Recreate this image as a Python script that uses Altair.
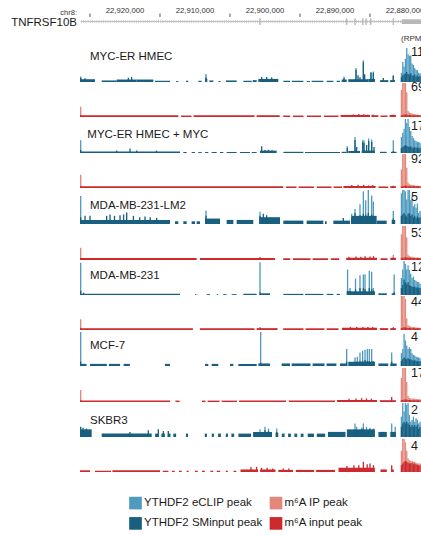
import altair as alt
import pandas as pd

FONT = "Liberation Sans"

# ---------------- visible genomic window (kb, chr8) ----------------
X_LEFT_KB, X_RIGHT_KB = 22937.857, 22877.714
W = 421
HEADER_H = 46
TRACK_HEIGHTS = [36, 35, 36, 35, 36, 36, 35, 35, 36, 36, 35, 35]
DATA_PX = 34.0   # pixel height that a track's maximum value reaches

C_ECLIP = "#4f9bc0"
C_SMIN = "#185f80"
C_IP = "#e3877b"
C_INPUT = "#cc2a2e"

S_ECLIP, S_SMIN = "YTHDF2 eCLIP peak", "YTHDF2 SMinput peak"
S_IP, S_INPUT = "m\u2076A IP peak", "m\u2076A input peak"
series_names = [S_ECLIP, S_SMIN, S_IP, S_INPUT]
series_colors = [C_ECLIP, C_SMIN, C_IP, C_INPUT]

# ---------------- header ----------------
axis_major_kb = [22920, 22910, 22900, 22890, 22880]
axis_minor_kb = [22925, 22915, 22905, 22895, 22885]
gene_span_kb = [22926.29, 22877.71]
exon_kb = [22900.71, 22888.33, 22887.14, 22886.04, 22885.57, 22884.90, 22881.67]
utr_kb = [22880.47, 22877.71]

cell_lines = ["MYC-ER HMEC", "MYC-ER HMEC + MYC", "MDA-MB-231-LM2", "MDA-MB-231", "MCF-7", "SKBR3"]
blue_max = [11, 17, 5, 12, 4, 2]
red_max = [69, 92, 53, 44, 17, 4]

# positions of the 3' peak bins shared by all tracks (kb)
main_pos = [22880.51, 22880.32, 22880.13, 22879.94, 22879.75, 22879.56, 22879.37, 22879.18,
            22878.99, 22878.80, 22878.61, 22878.42, 22878.23, 22878.04, 22877.85]

# ---- track 1: MYC-ER HMEC, YTHDF2 (RPM) ----
t1_cov = [[22926.43, 22924.29, 0.9], [22923.33, 22921.19, 0.5], [22921.19, 22918.33, 0.8], [22918.33, 22915.95, 0.8],
          [22915.71, 22913.57, 0.4], [22912.71, 22912.38, 0.3], [22911.29, 22910.95, 0.4], [22909.52, 22909.05, 0.4],
          [22908.57, 22908.24, 1.0], [22907.95, 22907.38, 0.5], [22906.67, 22906.33, 0.3], [22905.57, 22904.05, 0.5],
          [22903.10, 22901.90, 0.4], [22901.76, 22901.19, 0.6], [22900.95, 22898.10, 1.0], [22897.38, 22896.43, 0.4],
          [22896.19, 22894.52, 0.4], [22894.05, 22893.57, 0.3], [22893.33, 22891.67, 0.4], [22891.19, 22890.24, 0.4],
          [22889.76, 22889.29, 0.4], [22889.05, 22888.33, 0.8], [22888.10, 22885.24, 0.9], [22885.24, 22884.29, 1.0],
          [22883.57, 22882.38, 0.6], [22882.14, 22881.43, 0.6]]
t1_peaks = [[22926.33, 1.8, 1.4], [22925.71, 0, 1.2], [22919.52, 0, 1.4], [22919.05, 0, 1.6], [22908.43, 2.6, 1.5],
            [22900.48, 0, 1.6], [22899.76, 0, 1.6], [22899.05, 0, 1.5], [22888.71, 1.8, 1.2], [22887.00, 4.5, 4.0],
            [22886.71, 0, 2.2], [22886.43, 0, 1.5], [22885.95, 7.0, 6.5], [22885.76, 0, 2.5], [22884.86, 3.2, 3.0],
            [22884.52, 3.4, 3.0], [22883.10, 0, 1.3], [22881.67, 2.2, 2.0]]
t1_main_light = [3.0, 6.5, 5.0, 7.5, 11, 9.0, 8.5, 8.6, 6.0, 5.5, 4.5, 4.0, 3.8, 3.0, 2.8]
t1_main_dark = [1.5, 2.2, 2.5, 2.8, 3.2, 2.6, 2.4, 2.8, 2.2, 2.0, 2.4, 1.8, 2.2, 1.6, 2.0]

# ---- track 2: MYC-ER HMEC, m6A ----
t2_cov = [[22926.43, 22912.38, 3.6], [22912.0, 22910.5, 3.0], [22910.2, 22901.5, 3.6], [22901.2, 22897.9, 3.6],
          [22897.4, 22896.4, 3.0], [22896.0, 22894.5, 3.0], [22894.0, 22892.0, 3.0], [22891.6, 22889.5, 3.0],
          [22889.2, 22885.0, 4.2], [22884.8, 22883.8, 3.6], [22883.5, 22882.5, 3.0], [22882.2, 22881.3, 4.2]]
t2_peaks = [[22926.33, 21, 3.6], [22887.4, 0, 5], [22886.6, 0, 6], [22885.9, 0, 5.5], [22885.3, 0, 4.5],
            [22884.6, 0, 5], [22881.7, 0, 4.5]]
t2_main_light = [55, 69, 69, 69, 50, 12, 9, 8, 7, 6, 6, 5, 5, 4, 4]
t2_main_dark = [3, 4, 5, 5, 5, 4, 4, 4, 3.6, 3.6, 3.6, 3.6, 3.6, 3.6, 3.6]

# ---- track 3: MYC-ER HMEC + MYC, YTHDF2 ----
t3_cov = [[22926.43, 22912.14, 0.7], [22911.67, 22911.19, 0.5], [22910.48, 22910.0, 0.5], [22909.52, 22909.05, 0.5],
          [22908.57, 22908.10, 0.5], [22907.62, 22906.90, 0.5], [22906.43, 22905.95, 0.5], [22905.48, 22904.05, 0.5],
          [22903.57, 22902.14, 0.5], [22901.90, 22901.19, 0.5], [22900.71, 22898.33, 1.2], [22897.38, 22894.52, 0.6],
          [22894.29, 22889.29, 0.5], [22889.05, 22888.33, 0.6], [22888.10, 22886.43, 1.0], [22886.19, 22884.29, 1.2],
          [22883.57, 22882.62, 0.6], [22882.0, 22881.2, 0.6]]
t3_peaks = [[22926.33, 6.4, 1.5], [22921.19, 0, 1.3], [22919.29, 0, 2.2], [22918.33, 0, 1.2], [22915.5, 0, 1.2],
            [22900.48, 0, 3.4], [22900.0, 0, 1.5], [22899.5, 0, 1.6], [22899.0, 0, 1.4], [22888.24, 3.4, 2.5],
            [22887.14, 8.0, 6.5], [22886.90, 0, 3.0], [22886.05, 6.4, 5.5], [22885.86, 6.4, 5.0], [22885.48, 0, 4.0],
            [22885.19, 7.2, 6.0], [22884.76, 6.7, 5.5], [22884.43, 0, 3.0], [22881.67, 6.4, 1.0]]
t3_main_light = [8, 10, 12, 17, 15, 17, 13, 11, 8.5, 7.5, 6.4, 6, 5.5, 5.5, 5]
t3_main_dark = [2.5, 3, 3.5, 4, 3.5, 3.2, 3.0, 3.4, 2.8, 2.5, 3.0, 2.4, 2.8, 2.2, 2.6]

# ---- track 4: MYC-ER HMEC + MYC, m6A ----
t4_cov = [[22926.43, 22897.4, 5.0], [22897.0, 22895.5, 4.2], [22895.2, 22893.0, 4.2], [22892.6, 22890.5, 4.2],
          [22890.2, 22889.0, 4.2], [22888.8, 22884.2, 5.5], [22883.8, 22882.4, 4.2], [22882.1, 22881.3, 5.0]]
t4_peaks = [[22926.33, 36, 5], [22887.6, 0, 8], [22886.7, 0, 9], [22885.9, 0, 8.5], [22885.2, 0, 7],
            [22884.6, 0, 8], [22881.7, 0, 6]]
t4_main_light = [50, 92, 92, 92, 55, 14, 10, 9, 8, 8, 7, 7, 6, 6, 5]
t4_main_dark = [4, 5, 6, 6, 6, 5, 5, 5, 5, 5, 5, 5, 5, 5, 5]

# ---- track 5: MDA-MB-231-LM2, YTHDF2 ----
t5_cov = [[22926.43, 22913.57, 0.6], [22912.86, 22912.38, 0.4], [22911.67, 22911.19, 0.4], [22910.48, 22910.0, 0.4],
          [22909.76, 22909.29, 0.4], [22908.57, 22906.43, 0.8], [22905.48, 22904.52, 0.6], [22904.05, 22901.67, 0.6],
          [22900.81, 22897.86, 1.0], [22897.38, 22894.52, 0.5], [22894.05, 22891.67, 0.5], [22891.43, 22891.19, 0.4],
          [22890.24, 22887.86, 0.5], [22887.62, 22884.05, 1.2], [22884.05, 22882.62, 0.5], [22881.9, 22881.4, 0.6]]
t5_peaks = [[22926.33, 4.1, 1.0], [22925.71, 0, 1.2], [22925.0, 0, 1.2], [22922.62, 0, 1.2], [22922.14, 0, 1.4],
            [22921.5, 0, 1.2], [22920.71, 0, 1.3], [22920.2, 0, 1.4], [22919.76, 0, 1.7], [22918.8, 0, 1.2],
            [22917.9, 0, 1.0], [22917.14, 0, 1.1], [22916.4, 0, 1.0], [22915.48, 0, 0.9], [22908.43, 2.0, 1.2],
            [22900.71, 1.8, 1.2], [22900.24, 0, 1.5], [22899.76, 0, 1.3], [22888.81, 0, 0.9], [22887.62, 1.5, 1.0],
            [22887.14, 2.2, 1.6], [22886.43, 2.9, 1.3], [22885.95, 4.8, 1.5], [22885.62, 3.5, 1.4], [22885.24, 5.0, 1.6],
            [22884.76, 4.2, 1.4], [22884.52, 3.3, 1.2], [22881.67, 1.9, 0.8]]
t5_main_light = [4.5, 5, 5, 4.8, 3.6, 5, 5, 3.5, 4, 2.6, 2.9, 2.4, 3.0, 1.6, 1.9]
t5_main_dark = [1.2, 1.4, 1.6, 1.3, 1.1, 1.5, 1.6, 1.2, 1.4, 1.0, 1.2, 0.9, 1.1, 0.9, 1.0]

# ---- track 6: MDA-MB-231-LM2, m6A ----
t6_cov = [[22926.43, 22909.76, 3.0], [22909.29, 22898.57, 3.0], [22897.4, 22896.4, 2.7], [22896.0, 22893.5, 2.7],
          [22893.2, 22891.0, 2.7], [22890.6, 22889.4, 2.7], [22888.4, 22884.0, 3.5], [22883.5, 22882.5, 2.7],
          [22882.1, 22881.3, 3.5]]
t6_peaks = [[22926.33, 19, 3], [22900.71, 0, 4.5], [22888.0, 0, 5], [22887.0, 0, 5.5], [22886.3, 0, 5],
            [22885.7, 0, 6], [22885.0, 0, 5.5], [22884.5, 0, 6], [22881.67, 8, 3.5]]
t6_main_light = [40, 53, 53, 53, 35, 8, 6, 5, 5, 4.5, 4, 4, 4, 3.5, 3.5]
t6_main_dark = [3, 3.5, 4, 4, 4, 3.5, 3.5, 3.5, 3, 3, 3, 3, 3, 3, 3]

# ---- track 7: MDA-MB-231, YTHDF2 ----
t7_cov = [[22926.43, 22912.14, 0.4], [22910.0, 22909.8, 0.3], [22908.33, 22907.86, 0.3], [22906.9, 22906.7, 0.3],
          [22905.95, 22905.48, 0.3], [22904.76, 22904.05, 0.3], [22903.10, 22901.19, 0.4], [22900.71, 22899.29, 0.6],
          [22897.38, 22894.52, 0.4], [22894.29, 22891.67, 0.4], [22891.19, 22890.24, 0.4], [22889.76, 22889.29, 0.4],
          [22888.33, 22884.29, 1.3], [22883.8, 22882.6, 0.6], [22881.9, 22881.4, 0.6]]
t7_peaks = [[22926.33, 11.4, 1.5], [22925.9, 0, 0.8], [22900.71, 11.6, 1.0], [22888.2, 9.0, 1.5], [22887.86, 2.5, 1.5],
            [22887.07, 5.8, 2.0], [22886.43, 7.0, 2.5], [22885.95, 7.2, 2.5], [22885.71, 7.3, 2.0], [22885.1, 8.6, 2.5],
            [22884.76, 8.2, 2.0], [22884.52, 2.5, 1.5], [22881.55, 7.2, 1.0]]
t7_main_light = [6, 9, 12, 11, 9, 10.5, 8.8, 7.5, 6, 6.5, 5.3, 5, 4.6, 4.5, 4]
t7_main_dark = [2.5, 3.5, 5.5, 4.5, 3.8, 4.5, 3.5, 3.2, 3.0, 2.8, 3.0, 2.6, 2.8, 2.4, 2.5]

# ---- track 8: MDA-MB-231, m6A ----
t8_cov = [[22926.43, 22910.3, 2.4], [22909.3, 22901.5, 2.4], [22901.2, 22898.2, 2.4], [22897.4, 22894.5, 2.2],
          [22894.2, 22891.5, 2.2], [22891.2, 22889.5, 2.2], [22889.0, 22884.0, 3.0], [22883.6, 22882.4, 2.4],
          [22882.1, 22881.3, 2.4]]
t8_peaks = [[22926.33, 14, 2.4], [22900.71, 0, 3.5], [22887.8, 0, 3.8], [22886.9, 0, 4.0], [22886.0, 0, 3.8],
            [22885.3, 0, 4.0], [22884.6, 0, 3.8], [22881.67, 0, 3.5]]
t8_main_light = [44, 44, 44, 40, 15, 6, 5, 4.5, 4, 4, 3.5, 3.5, 3, 3, 3]
t8_main_dark = [2.4, 3, 3.5, 3.5, 3, 2.6, 2.6, 2.6, 2.4, 2.4, 2.4, 2.4, 2.4, 2.4, 2.4]

# ---- track 9: MCF-7, YTHDF2 ----
t9_cov = [[22926.43, 22925.5, 0.25], [22925.0, 22922.6, 0.25], [22922.3, 22920.7, 0.25], [22920.2, 22919.3, 0.25],
          [22914.29, 22913.57, 0.25], [22908.57, 22908.1, 0.25], [22907.62, 22906.67, 0.25], [22905.0, 22904.52, 0.25],
          [22903.81, 22901.19, 0.25], [22900.95, 22899.29, 0.3], [22897.62, 22896.43, 0.3], [22896.19, 22893.5, 0.3],
          [22893.2, 22891.5, 0.3], [22891.2, 22889.8, 0.3], [22889.29, 22888.33, 0.3], [22888.1, 22884.29, 0.5],
          [22883.8, 22882.4, 0.3], [22882.1, 22881.2, 0.3]]
t9_peaks = [[22926.33, 4.0, 0.5], [22900.62, 4.0, 0.4], [22888.33, 2.0, 0.5], [22887.14, 1.0, 0.5], [22886.81, 1.1, 0.5],
            [22886.43, 1.6, 0.6], [22886.05, 1.8, 0.6], [22885.71, 1.9, 0.7], [22885.38, 2.0, 0.6], [22885.10, 2.0, 0.6],
            [22884.76, 2.0, 0.6], [22884.52, 0.6, 0.4], [22881.9, 1.6, 0.5]]
t9_main_light = [1.5, 2.0, 3.8, 3.0, 2.4, 2.0, 2.2, 2.0, 1.5, 1.3, 1.25, 1.1, 1.05, 1.0, 0.9]
t9_main_dark = [0.6, 0.8, 1.0, 0.9, 0.8, 0.9, 0.8, 0.8, 0.7, 0.6, 0.7, 0.6, 0.6, 0.5, 0.6]

# ---- track 10: MCF-7, m6A ----
t10_cov = [[22926.43, 22913.57, 0.8], [22912.8, 22912.2, 0.7], [22909.0, 22908.5, 0.7], [22908.2, 22906.5, 0.7],
           [22906.2, 22904.0, 0.7], [22903.7, 22897.0, 0.8], [22896.6, 22890.0, 0.8], [22889.7, 22884.0, 1.0],
           [22883.6, 22881.3, 0.9]]
t10_peaks = [[22926.33, 6.0, 0.8], [22888.0, 0, 1.6], [22887.0, 0, 1.8], [22886.2, 0, 1.9], [22885.5, 0, 1.8],
             [22884.8, 0, 1.7], [22881.9, 0, 2.5]]
t10_main_light = [12, 17, 17, 17, 10, 3, 2, 1.8, 1.7, 1.7, 1.6, 1.5, 1.5, 1.4, 1.4]
t10_main_dark = [0.9, 1.0, 1.2, 1.2, 1.2, 1.0, 1.0, 1.0, 0.9, 0.9, 0.9, 0.9, 0.9, 0.9, 0.9]

# ---- track 11: SKBR3, YTHDF2 ----
t11_cov = [[22926.43, 22924.76, 0.45], [22923.33, 22916.19, 0.2], [22915.7, 22915.2, 0.2], [22914.8, 22914.3, 0.2],
           [22913.9, 22913.5, 0.2], [22913.1, 22912.7, 0.2], [22911.3, 22911.0, 0.2], [22908.6, 22908.3, 0.2],
           [22907.6, 22907.3, 0.2], [22906.7, 22906.3, 0.2], [22905.6, 22905.3, 0.2], [22904.8, 22904.4, 0.2],
           [22903.8, 22902.0, 0.2], [22901.7, 22899.0, 0.3], [22898.5, 22898.1, 0.25], [22897.6, 22897.2, 0.2],
           [22896.7, 22896.3, 0.2], [22895.8, 22895.4, 0.2], [22894.9, 22894.5, 0.2], [22893.9, 22893.0, 0.2],
           [22892.6, 22891.4, 0.2], [22891.0, 22888.5, 0.3], [22888.3, 22884.3, 0.45], [22883.8, 22882.6, 0.3],
           [22882.1, 22881.4, 0.3]]
t11_peaks = [[22926.33, 0, 0.6], [22926.0, 0, 0.55], [22925.5, 0, 0.5], [22919.29, 0, 0.3], [22916.67, 0, 0.4],
             [22915.24, 0, 0.45], [22914.52, 0, 0.35], [22913.81, 0, 0.35], [22900.71, 0.45, 0.3], [22900.0, 0.6, 0.4],
             [22899.5, 0.5, 0.35], [22898.33, 0.5, 0.3], [22887.14, 0.8, 0.4], [22886.9, 0.6, 0.4], [22886.2, 0.55, 0.45],
             [22885.95, 0.8, 0.5], [22885.5, 0.6, 0.4], [22885.0, 0.55, 0.45], [22884.5, 0.5, 0.35], [22881.9, 0.8, 0.3],
             [22881.4, 0.6, 0.3]]
t11_main_light = [1.2, 2, 1.5, 2, 1.9, 2, 1.3, 0.9, 1.0, 1.2, 0.9, 1.1, 1.0, 0.8, 0.9]
t11_main_dark = [0.6, 0.8, 0.9, 0.8, 0.9, 0.8, 0.7, 0.6, 0.7, 0.6, 0.7, 0.6, 0.7, 0.5, 0.6]

# ---- track 12: SKBR3, m6A ----
t12_cov = [[22926.43, 22925.0, 0.2], [22924.3, 22922.0, 0.15], [22921.8, 22915.0, 0.2], [22914.6, 22913.8, 0.15],
           [22913.3, 22912.9, 0.15], [22912.3, 22911.9, 0.15], [22911.2, 22910.9, 0.15], [22910.0, 22909.6, 0.15],
           [22909.0, 22908.6, 0.15], [22907.8, 22907.4, 0.15], [22906.9, 22906.4, 0.15], [22905.6, 22905.3, 0.15],
           [22904.5, 22904.1, 0.15], [22903.5, 22901.0, 0.3], [22900.7, 22898.5, 0.3], [22898.1, 22896.0, 0.25],
           [22895.6, 22893.0, 0.25], [22892.7, 22890.0, 0.25], [22889.5, 22884.3, 0.5], [22883.5, 22882.6, 0.3],
           [22881.9, 22881.6, 0.3]]
t12_peaks = [[22902.0, 0, 0.6], [22901.2, 0, 0.6], [22900.5, 0, 0.5], [22899.7, 0, 0.5], [22898.9, 0, 0.4],
             [22897.4, 0, 0.4], [22896.6, 0, 0.4], [22888.3, 0, 0.7], [22887.3, 0, 0.8], [22886.6, 0, 0.8],
             [22885.95, 0, 1.2], [22885.4, 0, 0.9], [22885.0, 0, 1.0], [22884.5, 0, 0.8], [22881.9, 0, 0.8]]
t12_main_light = [2.5, 3.9, 3.9, 3.5, 2.5, 1.6, 1.4, 1.3, 1.3, 1.2, 1.2, 1.1, 1.0, 1.0, 1.0]
t12_main_dark = [0.8, 1.0, 1.2, 1.3, 1.2, 1.1, 1.0, 1.0, 1.1, 0.9, 1.0, 0.9, 0.8, 0.8, 0.8]

tracks_cov = [t1_cov, t2_cov, t3_cov, t4_cov, t5_cov, t6_cov, t7_cov, t8_cov, t9_cov, t10_cov, t11_cov, t12_cov]
tracks_peaks = [t1_peaks, t2_peaks, t3_peaks, t4_peaks, t5_peaks, t6_peaks, t7_peaks, t8_peaks, t9_peaks,
                t10_peaks, t11_peaks, t12_peaks]
tracks_main_light = [t1_main_light, t2_main_light, t3_main_light, t4_main_light, t5_main_light, t6_main_light,
                     t7_main_light, t8_main_light, t9_main_light, t10_main_light, t11_main_light, t12_main_light]
tracks_main_dark = [t1_main_dark, t2_main_dark, t3_main_dark, t4_main_dark, t5_main_dark, t6_main_dark,
                    t7_main_dark, t8_main_dark, t9_main_dark, t10_main_dark, t11_main_dark, t12_main_dark]

# ---------------- layout constants (not data) ----------------
label_x = [90, 87.3, 90, 90, 90, 90]
label_y = [10.7, 18, 18, 16, 16.3, 18.7]
num_y = [6, 4.7, 8.7, 6.3, 9.3, 9, 7, 7, 7.3, 7, 8, 8.7]
BIN_HALF = 0.095

xscale = alt.Scale(domain=[X_LEFT_KB, X_RIGHT_KB], nice=False, zero=False)
cscale = alt.Scale(domain=series_names, range=series_colors)
legend = alt.Legend(orient="none", legendX=129, legendY=496.5, columns=2, title=None,
                    symbolType="square", symbolSize=160, symbolStrokeWidth=0,
                    labelFont=FONT, labelFontSize=11.5, labelColor="#1a1a1a", labelOffset=2,
                    columnPadding=6.5, rowPadding=7.4, padding=0, labelLimit=0)


def track_chart(i):
    blue = i % 2 == 0
    k = i // 2
    h_px = TRACK_HEIGHTS[i]
    vmax = blue_max[k] if blue else red_max[k]
    light, dark = (S_ECLIP, S_SMIN) if blue else (S_IP, S_INPUT)
    rows = []
    for s, e, h in tracks_cov[i]:
        rows.append(dict(s=s, e=e, h=h, series=dark, lay=1))
    for p, lh, dh in tracks_peaks[i]:
        if lh > 0:
            rows.append(dict(s=p + BIN_HALF, e=p - BIN_HALF, h=lh, series=light, lay=0))
        if dh > 0:
            rows.append(dict(s=p + BIN_HALF, e=p - BIN_HALF, h=dh, series=dark, lay=1))
    for p, lh, dh in zip(main_pos, tracks_main_light[i], tracks_main_dark[i]):
        rows.append(dict(s=p + BIN_HALF, e=p - BIN_HALF, h=lh, series=light, lay=0))
        rows.append(dict(s=p + BIN_HALF, e=p - BIN_HALF, h=dh, series=dark, lay=1))
    df = pd.DataFrame(rows)
    ydom = [0, vmax * h_px / DATA_PX]
    base = alt.Chart(df).encode(
        x=alt.X("s:Q", scale=xscale, axis=None),
        x2="e:Q",
        y=alt.Y("h:Q", scale=alt.Scale(domain=ydom, nice=False, zero=True), axis=None),
        y2=alt.datum(0),
        color=alt.Color("series:N", scale=cscale, legend=legend),
    )
    layers = [
        base.transform_filter("datum.lay == 0").mark_rect(clip=True),
        base.transform_filter("datum.lay == 1").mark_rect(clip=True),
        alt.Chart(pd.DataFrame({"t": [str(vmax)]})).mark_text(
            align="left", baseline="middle", font=FONT, fontSize=12.5, color="#1a1a1a", clip=True
        ).encode(x=alt.value(411), y=alt.value(num_y[i]), text="t:N"),
    ]
    if blue:
        layers.append(
            alt.Chart(pd.DataFrame({"t": [cell_lines[k]]})).mark_text(
                align="left", baseline="middle", font=FONT, fontSize=11.5, color="#1a1a1a", clip=True
            ).encode(x=alt.value(label_x[k]), y=alt.value(label_y[k]), text="t:N")
        )
    return alt.layer(*layers).properties(width=W, height=h_px)


# ---------------- header ----------------
major_df = pd.DataFrame({"kb": axis_major_kb})
minor_df = pd.DataFrame({"kb": axis_minor_kb})
gene_df = pd.DataFrame({"s": [gene_span_kb[0]], "e": [gene_span_kb[1]]})
exon_df = pd.DataFrame({"s": [p + 0.1 for p in exon_kb], "e": [p - 0.1 for p in exon_kb]})
utr_df = pd.DataFrame({"s": [utr_kb[0]], "e": [utr_kb[1]]})

hx = alt.X("kb:Q", scale=xscale, axis=None)
header = alt.layer(
    alt.Chart(major_df).transform_calculate(lab="format(datum.kb * 1000, ',')").mark_text(
        align="center", baseline="middle", font=FONT, fontSize=7.7, color="#333333", clip=True
    ).encode(x=hx, y=alt.value(10.5), text="lab:N"),
    alt.Chart(minor_df).mark_rule(color="#555555", strokeWidth=1, clip=True).encode(
        x=hx, y=alt.value(13.5), y2=alt.value(17)),
    alt.Chart(gene_df).mark_rule(color="#cfcfcf", strokeWidth=3, strokeDash=[1, 1.2], clip=True).encode(
        x=alt.X("s:Q", scale=xscale, axis=None), x2="e:Q", y=alt.value(21.5)),
    alt.Chart(gene_df).mark_rule(color="#c2c2c2", strokeWidth=1, clip=True).encode(
        x=alt.X("s:Q", scale=xscale, axis=None), x2="e:Q", y=alt.value(21.5)),
    alt.Chart(exon_df).mark_rect(color="#b8b8b8", clip=True).encode(
        x=alt.X("s:Q", scale=xscale, axis=None), x2="e:Q", y=alt.value(18.3), y2=alt.value(25)),
    alt.Chart(utr_df).mark_rect(color="#b8b8b8", clip=True).encode(
        x=alt.X("s:Q", scale=xscale, axis=None), x2="e:Q", y=alt.value(19.3), y2=alt.value(24)),
    alt.Chart(pd.DataFrame({"t": ["chr8:"]})).mark_text(
        align="right", baseline="middle", font=FONT, fontSize=7.5, color="#333333", clip=True
    ).encode(x=alt.value(77), y=alt.value(12.5), text="t:N"),
    alt.Chart(pd.DataFrame({"t": ["TNFRSF10B"]})).mark_text(
        align="right", baseline="middle", font=FONT, fontSize=11.5, color="#1a1a1a", clip=True
    ).encode(x=alt.value(77), y=alt.value(22.5), text="t:N"),
    alt.Chart(pd.DataFrame({"t": ["(RPM)"]})).mark_text(
        align="left", baseline="middle", font=FONT, fontSize=8, color="#333333", clip=True
    ).encode(x=alt.value(401), y=alt.value(39), text="t:N"),
).properties(width=W, height=HEADER_H)

chart = (
    alt.vconcat(header, *[track_chart(i) for i in range(12)], spacing=0)
    .properties(padding=0)
    .configure(font=FONT)
    .configure_view(strokeWidth=0, stroke="transparent")
)

chart.save("out.html", embed_options={"renderer": "svg", "actions": False})
